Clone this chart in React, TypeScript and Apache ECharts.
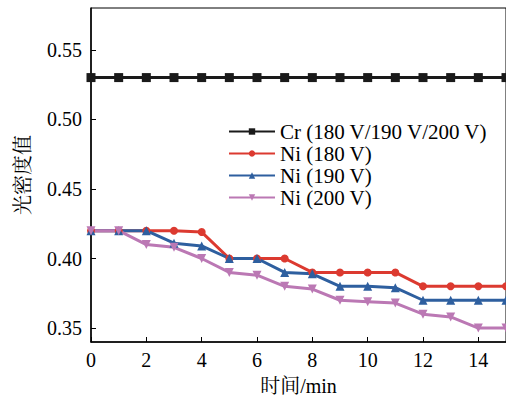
import React, { useEffect, useRef } from "react";
import * as echarts from "echarts";

const times = [0, 1, 2, 3, 4, 5, 6, 7, 8, 9, 10, 11, 12, 13, 14, 15];
const crAll = [0.53, 0.53, 0.53, 0.53, 0.53, 0.53, 0.53, 0.53, 0.53, 0.53, 0.53, 0.53, 0.53, 0.53, 0.53, 0.53];
const ni180 = [0.42, 0.42, 0.42, 0.42, 0.419, 0.4, 0.4, 0.4, 0.39, 0.39, 0.39, 0.39, 0.38, 0.38, 0.38, 0.38];
const ni190 = [0.42, 0.42, 0.42, 0.411, 0.409, 0.4, 0.4, 0.39, 0.389, 0.38, 0.38, 0.379, 0.37, 0.37, 0.37, 0.37];
const ni200 = [0.42, 0.42, 0.41, 0.408, 0.4, 0.39, 0.388, 0.38, 0.378, 0.37, 0.369, 0.368, 0.36, 0.358, 0.35, 0.35];
const yTicks = [0.35, 0.4, 0.45, 0.5, 0.55];
const xTicks = [0, 2, 4, 6, 8, 10, 12, 14];
const seriesNames = ["Cr (180 V/190 V/200 V)", "Ni (180 V)", "Ni (190 V)", "Ni (200 V)"];

const serif = "'Liberation Serif', 'Times New Roman', 'Noto Serif CJK SC', 'Noto Sans CJK SC', serif";

export default function App() {
  const ref = useRef<HTMLDivElement>(null);
  useEffect(() => {
    if (!ref.current) return;
    const chart = echarts.init(ref.current, undefined, { renderer: "svg" });
    const mk = (name: string, data: number[], color: string, symbol: string, size: number, rotate = 0) => ({
      name,
      type: "line",
      data: times.map((t, i) => [t, data[i]]),
      symbol,
      symbolSize: size,
      symbolRotate: rotate,
      showSymbol: true,
      lineStyle: { color, width: 3 },
      itemStyle: { color },
      z: 3,
    });
    chart.setOption({
      animation: false,
      grid: { left: 91, right: -1, top: 8, bottom: 57, show: true, borderColor: "#000", borderWidth: 1 },
      legend: {
        orient: "vertical",
        left: 223,
        top: 116,
        itemWidth: 46,
        itemHeight: 8,
        itemGap: 1,
        textStyle: { fontFamily: serif, fontSize: 21, color: "#000", lineHeight: 21 },
        data: seriesNames,
      },
      xAxis: {
        type: "value",
        min: 0,
        max: 15,
        name: "时间/min",
        nameLocation: "middle",
        nameGap: 34,
        nameTextStyle: { fontFamily: serif, fontSize: 20, color: "#000" },
        axisLine: { lineStyle: { color: "#000", width: 1.5 } },
        axisTick: { inside: true, length: 5, customValues: xTicks, lineStyle: { color: "#000" } },
        axisLabel: { customValues: xTicks, fontFamily: serif, fontSize: 20, color: "#000", margin: 8 },
        splitLine: { show: false },
      },
      yAxis: {
        type: "value",
        min: 0.34,
        max: 0.58,
        name: "光密度值",
        nameLocation: "middle",
        nameGap: 58,
        nameRotate: 90,
        nameTextStyle: { fontFamily: serif, fontSize: 20, color: "#000" },
        axisLine: { lineStyle: { color: "#000", width: 1.5 } },
        axisTick: { inside: true, length: 5, customValues: yTicks, lineStyle: { color: "#000" } },
        axisLabel: {
          customValues: yTicks,
          fontFamily: serif,
          fontSize: 20,
          color: "#000",
          margin: 9,
          formatter: (v: number) => v.toFixed(2),
        },
        splitLine: { show: false },
      },
      series: [
        mk(seriesNames[0], crAll, "#1a1a1a", "rect", 9),
        mk(seriesNames[1], ni180, "#dc3a30", "circle", 8),
        mk(seriesNames[2], ni190, "#2e5f9f", "triangle", 9),
        mk(seriesNames[3], ni200, "#bb78b4", "triangle", 9, 180),
      ],
    });
    return () => chart.dispose();
  }, []);
  return <div ref={ref} style={{ width: 506, height: 401, position: "absolute", left: 0, top: 0 }} />;
}
